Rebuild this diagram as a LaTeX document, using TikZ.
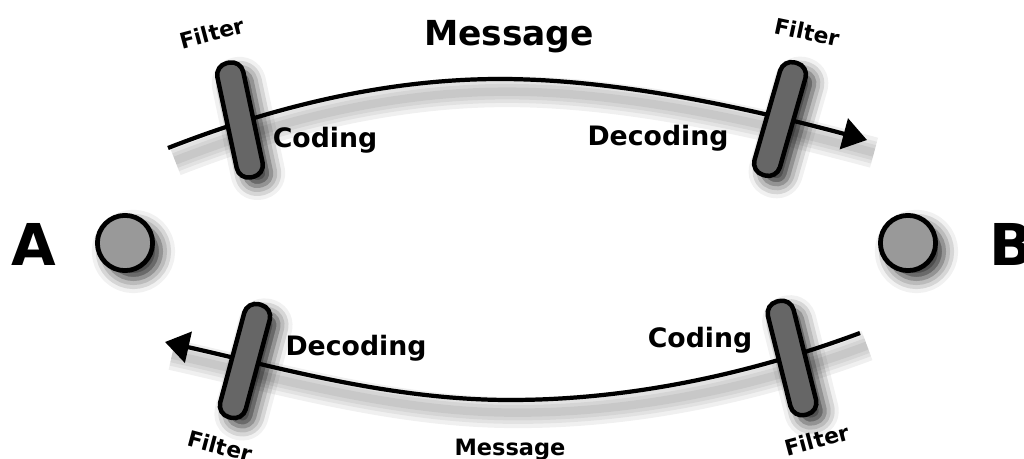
\documentclass[tikz,border=0pt]{standalone}
\usepackage{fontspec}
\setmainfont{DejaVu Sans}
\usetikzlibrary{arrows.meta,shadows.blur}

\tikzset{
  softshadow/.style={blur shadow={shadow xshift=6pt, shadow yshift=-6pt,
      shadow blur radius=10pt, shadow opacity=85}},
  filterbox/.style={draw=black, line width=3.2pt, fill=black!60,
      rounded corners=0.3cm, minimum width=0.66cm, minimum height=2.92cm,
      inner sep=0pt, softshadow},
  station/.style={circle, draw=black, line width=3.4pt, fill=black!40,
      minimum size=1.38cm, inner sep=0pt, softshadow},
  channel/.style={line width=3pt, -{Triangle[length=0.6cm,width=0.78cm]}},
  channelshadow/.style={line width=#1, black, opacity=0.06,
      transform canvas={xshift=5pt, yshift=-9pt}},
  word/.style={font=\bfseries\fontsize{19}{19}\selectfont, inner sep=0pt},
  filterword/.style={font=\bfseries\fontsize{15.5}{16}\selectfont, inner sep=0pt},
  bigletter/.style={font=\bfseries\fontsize{41}{41}\selectfont, inner sep=0pt}
}

\begin{document}
\begin{tikzpicture}[x=0.025cm, y=-0.025cm]
  \useasboundingbox (0,0) rectangle (1024,459);

  % Channel end points
  \coordinate (upstart) at (168,148);
  \coordinate (uptop) at (500,79);
  \coordinate (upend) at (867,140);
  \coordinate (lowstart) at (860,333);
  \coordinate (lowbot) at (510,400);
  \coordinate (lowend) at (165,342);

  % Soft shadows under the channels
  \foreach \w in {22pt,16pt,11pt,6pt} {
    \draw[channelshadow=\w] (upstart) .. controls (278,105) and (390,79) .. (uptop)
      .. controls (620,79) and (755,110) .. (upend);
    \draw[channelshadow=\w] (lowstart) .. controls (750,374) and (630,400) .. (lowbot)
      .. controls (390,400) and (277,367) .. (lowend);
  }

  % Channels
  \draw[channel] (upstart) .. controls (278,105) and (390,79) .. (uptop)
    .. controls (620,79) and (755,110) .. (upend);
  \draw[channel] (lowstart) .. controls (750,374) and (630,400) .. (lowbot)
    .. controls (390,400) and (277,367) .. (lowend);

  % Filters
  \node[filterbox, rotate=12] (filterUL) at (240,120) {};
  \node[filterbox, rotate=-16] (filterUR) at (780,119) {};
  \node[filterbox, rotate=-15] (filterLL) at (245,361) {};
  \node[filterbox, rotate=14] (filterLR) at (792,358) {};

  % End points A and B
  \node[station] (A) at (125,243) {};
  \node[station] (B) at (908,243) {};
  \node[bigletter, anchor=base] (labelA) at (34,265) {A};
  \node[bigletter, anchor=base west] (labelB) at (989,265) {B};

  % Labels
  \node[word, font=\bfseries\fontsize{24.5}{25}\selectfont, anchor=base] (msgtop) at (509,46) {Message};
  \node[word, font=\bfseries\fontsize{16}{16}\selectfont, anchor=base] (msgbot) at (510,455) {Message};
  \node[word, anchor=base] (codingtop) at (325,148) {Coding};
  \node[word, anchor=base] (decodingtop) at (658,146) {Decoding};
  \node[word, anchor=base] (decodingbot) at (356,355) {Decoding};
  \node[word, anchor=base] (codingbot) at (700,347) {Coding};
  \node[filterword, rotate=15] (filtUL) at (212,33) {Filter};
  \node[filterword, rotate=-12] (filtUR) at (807,32) {Filter};
  \node[filterword, rotate=-15] (filtLL) at (220,446) {Filter};
  \node[filterword, rotate=15] (filtLR) at (817,440) {Filter};
\end{tikzpicture}
\end{document}
